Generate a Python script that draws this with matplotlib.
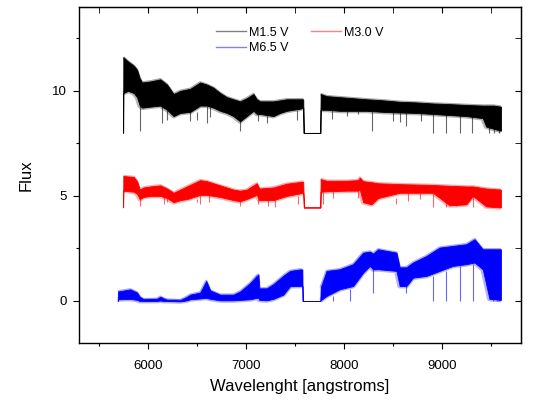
import matplotlib
matplotlib.use('Agg')
import numpy as np
import matplotlib.pyplot as plt
from matplotlib.ticker import MultipleLocator
from matplotlib.lines import Line2D

plt.rcParams['font.family'] = ['Liberation Sans', 'DejaVu Sans']

# --- M1.5 V (black): band envelope ---
m15_wl = [5750, 5752, 5800, 5858, 5892, 5919, 5943, 6027, 6129, 6197, 6264, 6332, 6434,
          6535, 6603, 6670, 6738, 6806, 6873, 6941, 7009, 7077, 7111, 7145, 7213, 7280,
          7349, 7416, 7483, 7551, 7584, 7588, 7758, 7761, 7822, 7957, 8092, 8228, 8397,
          8566, 8736, 8905, 9074, 9244, 9412, 9447, 9520, 9597]
m15_hi = [8.0, 11.6, 11.4, 11.2, 11.0, 10.6, 10.4, 10.45, 10.55, 10.3, 9.85, 10.0, 10.1,
          10.4, 10.3, 10.15, 9.9, 9.7, 9.6, 9.5, 9.65, 9.85, 9.6, 9.5, 9.5, 9.5,
          9.55, 9.6, 9.6, 9.6, 9.6, 8.0, 8.0, 9.85, 9.75, 9.7, 9.65, 9.6, 9.55,
          9.48, 9.45, 9.4, 9.37, 9.33, 9.3, 9.3, 9.3, 9.25]
m15_lo = [8.0, 9.9, 10.0, 9.9, 9.7, 9.3, 9.2, 9.25, 9.3, 9.1, 8.8, 8.95, 9.0,
          9.3, 9.3, 9.2, 9.05, 8.95, 8.8, 8.55, 8.8, 9.05, 8.9, 8.9, 8.85, 8.8,
          8.95, 9.05, 9.1, 9.15, 9.2, 8.0, 8.0, 9.1, 9.1, 9.05, 9.05, 9.05, 9.0,
          8.97, 8.95, 8.9, 8.85, 8.8, 8.7, 8.3, 8.2, 8.1]
m15_line_wl = [5926, 6146, 6197, 6434, 6502, 6603, 6637, 6941, 7127, 7213, 7517,
               7873, 8025, 8143, 8279, 8499, 8566, 8634, 8787, 8905, 9034, 9176,
               9305, 9480, 9531, 9582]
m15_line_depth = [8.1, 8.45, 8.6, 8.55, 8.6, 8.45, 8.75, 8.1, 8.55, 8.45, 8.6,
                  8.65, 8.8, 8.9, 8.1, 8.55, 8.5, 8.35, 8.55, 8.0, 8.0, 8.0,
                  8.0, 8.0, 8.0, 8.0]

# --- M3.0 V (red) ---
m30_wl = [5750, 5752, 5858, 5892, 5919, 5959, 6027, 6129, 6197, 6264, 6332, 6400, 6535,
          6603, 6738, 6873, 6941, 7009, 7111, 7137, 7280, 7416, 7584, 7590, 7758, 7761,
          7822, 8025, 8143, 8160, 8194, 8279, 8346, 8566, 8905, 9074, 9244, 9311, 9447,
          9597]
m30_hi = [4.45, 5.95, 5.9, 5.7, 5.3, 5.4, 5.45, 5.5, 5.35, 5.15, 5.3, 5.45, 5.75,
          5.7, 5.5, 5.3, 5.25, 5.3, 5.6, 5.35, 5.4, 5.58, 5.68, 4.45, 4.45, 5.8,
          5.72, 5.72, 5.75, 5.87, 5.7, 5.65, 5.6, 5.56, 5.52, 5.48, 5.45, 5.45, 5.35,
          5.3]
m30_lo = [4.45, 5.25, 5.2, 5.1, 4.85, 4.95, 5.0, 5.0, 4.9, 4.7, 4.8, 4.85, 5.05,
          5.05, 4.95, 4.8, 4.75, 4.85, 5.05, 4.8, 4.8, 5.0, 5.15, 4.45, 4.45, 5.2,
          5.22, 5.25, 5.25, 5.3, 4.7, 4.6, 4.9, 5.15, 5.15, 4.55, 4.6, 5.0, 4.5,
          4.45]
m30_line_wl = [5926, 6162, 6197, 6502, 6535, 6620, 6941, 7127, 7229, 7297, 7534,
               7788, 7890, 8143, 8533, 8651, 8770, 8905, 9034, 9142, 9311]
m30_line_depth = [4.5, 4.6, 4.7, 4.7, 4.6, 4.7, 4.5, 4.6, 4.5, 4.45, 4.6,
                  4.6, 4.9, 4.9, 4.6, 4.75, 4.85, 4.45, 4.45, 4.5, 4.45]

# --- M6.5 V (blue) ---
m65_wl = [5695, 5697, 5824, 5892, 5919, 5959, 6095, 6129, 6162, 6197, 6332, 6400, 6434,
          6535, 6596, 6637, 6738, 6873, 6941, 7043, 7111, 7127, 7137, 7213, 7280, 7381,
          7449, 7551, 7575, 7578, 7758, 7761, 7822, 7957, 8092, 8194, 8262, 8296, 8346,
          8533, 8566, 8634, 8702, 8838, 8973, 9108, 9244, 9329, 9412, 9480, 9597]
m65_hi = [0.0, 0.45, 0.55, 0.4, 0.2, 0.08, 0.1, 0.2, 0.12, 0.05, 0.03, 0.2, 0.3,
          0.4, 0.95, 0.5, 0.3, 0.3, 0.45, 0.85, 1.2, 1.25, 0.6, 0.6, 0.8, 1.2,
          1.43, 1.5, 1.5, 0.0, 0.0, 0.63, 1.43, 1.51, 1.75, 2.3, 2.35, 2.25, 2.46,
          2.3, 1.6, 1.6, 1.83, 2.14, 2.54, 2.62, 2.7, 2.94, 2.46, 2.46, 2.46]
m65_lo = [0.0, 0.08, 0.1, 0.05, 0.0, 0.0, 0.0, 0.02, 0.0, 0.0, -0.02, 0.03, 0.08,
          0.12, 0.15, 0.1, 0.03, 0.03, 0.05, 0.08, 0.15, 0.15, 0.05, 0.03, 0.1, 0.3,
          0.7, 0.72, 0.72, 0.0, 0.0, 0.03, 0.24, 0.56, 0.71, 1.35, 1.67, 1.5, 1.51,
          1.43, 0.71, 0.71, 1.11, 1.19, 1.43, 1.67, 1.75, 1.83, 1.5, 0.1, 0.05]
m65_line_wl = [5926, 7890, 8059, 8296, 8634, 8905, 9041, 9176, 9311, 9514, 9560, 9582]
m65_line_depth = [0.0, 0.0, 0.0, 0.4, 0.4, 0.0, 0.0, 0.0, 0.0, 0.0, 0.0, 0.0]

series = [
    ('M1.5 V', 'black', m15_wl, m15_hi, m15_lo, m15_line_wl, m15_line_depth),
    ('M3.0 V', 'red', m30_wl, m30_hi, m30_lo, m30_line_wl, m30_line_depth),
    ('M6.5 V', 'blue', m65_wl, m65_hi, m65_lo, m65_line_wl, m65_line_depth),
]

fig = plt.figure(figsize=(5.37, 4.03), dpi=100)
ax = fig.add_axes([0.147, 0.149, 0.823, 0.834])

for nome, cor, wl, hi, lo, lwl, ldep in series:
    wl_a, hi_a, lo_a = np.array(wl), np.array(hi), np.array(lo)
    ax.fill_between(wl_a, lo_a, hi_a, color=cor, lw=0.6, edgecolor=cor)
    # borda difusa (ruido) so onde ha banda
    banda = hi_a != lo_a
    ax.plot(wl_a, np.where(banda, lo_a, np.nan), color=cor, lw=3.5, alpha=0.3,
            solid_capstyle='butt')
    ax.plot(wl_a, np.where(banda, hi_a, np.nan), color=cor, lw=1.8, alpha=0.35,
            solid_capstyle='butt')
    # linhas de absorcao: do fundo da banda ate a profundidade
    tops = [lo[max(i for i, w in enumerate(wl) if w <= x)] for x in lwl]
    ax.vlines(lwl, ldep, tops, color=cor, lw=0.8, alpha=0.6)

ax.set_xlim(5300, 9800)
ax.set_ylim(-2, 14)
ax.xaxis.set_major_locator(MultipleLocator(1000))
ax.xaxis.set_minor_locator(MultipleLocator(500))
ax.yaxis.set_major_locator(MultipleLocator(5))
ax.yaxis.set_minor_locator(MultipleLocator(2.5))
ax.tick_params(which='both', direction='out', top=False, right=False, labelsize=9.5)
ax.tick_params(axis='x', pad=8)
ax.tick_params(axis='y', pad=5)
ax.tick_params(which='major', length=4, width=0.8)
ax.tick_params(which='minor', length=2.5, width=0.8)
# ticks espelhados para dentro no topo e na direita
ax2 = ax.secondary_xaxis('top')
ax2.xaxis.set_major_locator(MultipleLocator(1000))
ax2.xaxis.set_minor_locator(MultipleLocator(500))
ax2.tick_params(which='both', direction='in', labeltop=False, length=4)
ax3 = ax.secondary_yaxis('right')
ax3.yaxis.set_major_locator(MultipleLocator(5))
ax3.yaxis.set_minor_locator(MultipleLocator(2.5))
ax3.tick_params(which='both', direction='in', labelright=False, length=4)
for s in ax.spines.values():
    s.set_linewidth(1.0)

ax.set_xlabel('Wavelenght [angstroms]', fontsize=12, labelpad=5)
ax.set_ylabel('Flux', fontsize=12, labelpad=13)

# ordem para preencher linha 1: M1.5, M3.0 / linha 2: M6.5
handles = [Line2D([], [], color=c, lw=1, alpha=0.5) for c in ['black', 'blue', 'red']]
ax.legend(handles, ['M1.5 V', 'M6.5 V', 'M3.0 V'], ncol=2, frameon=False,
          loc='upper center', bbox_to_anchor=(0.50, 0.975), fontsize=9,
          handlelength=2.4, handletextpad=0.25, columnspacing=1.8, labelspacing=0.3)

fig.savefig('out.png', dpi=100)
